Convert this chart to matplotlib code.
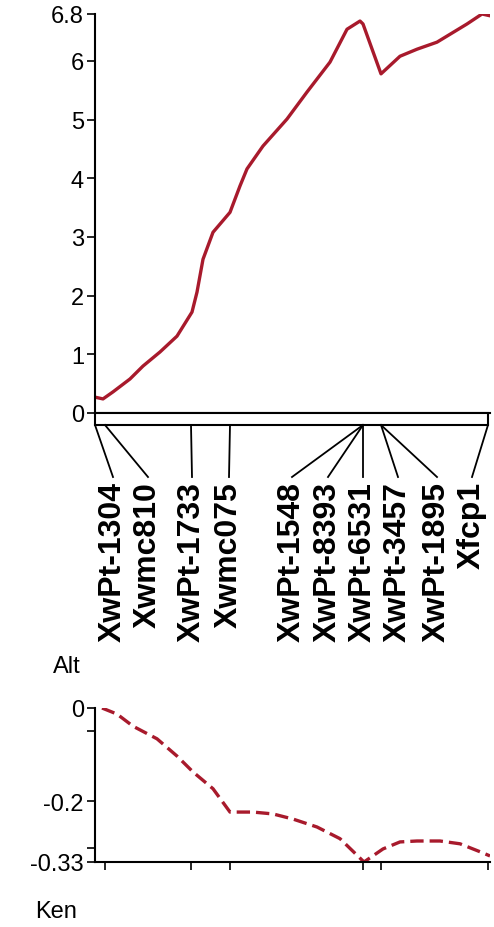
import matplotlib
matplotlib.use("Agg")
import matplotlib.pyplot as plt
import numpy as np

# marker map (cM)
markers = ["XwPt-1304", "Xwmc810", "XwPt-1733", "Xwmc075", "XwPt-1548",
           "XwPt-8393", "XwPt-6531", "XwPt-3457", "XwPt-1895", "Xfcp1"]
marker_pos = [0.0, 1.0, 9.6, 13.5, 26.8, 26.8, 26.8, 28.6, 28.6, 39.3]

# LOD profile
lod_x = [0.0, 0.8, 1.8, 3.5, 4.8, 6.5, 8.2, 9.7, 10.2, 10.8, 11.8, 13.5, 14.5,
         15.2, 16.8, 19.2, 21.2, 23.5, 25.2, 26.5, 26.8, 28.6, 30.5, 32.2,
         34.2, 37.2, 38.7, 39.5]
lod_y = [0.27, 0.24, 0.36, 0.58, 0.80, 1.04, 1.31, 1.72, 2.06, 2.62, 3.08, 3.42,
         3.87, 4.16, 4.55, 5.01, 5.47, 5.98, 6.54, 6.68, 6.63, 5.78, 6.08, 6.20,
         6.32, 6.63, 6.80, 6.77]

# additive effect
add_x = [0.7, 2.2, 3.8, 6.2, 8.2, 9.8, 11.8, 13.5, 15.8, 17.8, 19.8, 22.2, 24.5,
         26.9, 28.8, 30.5, 32.2, 34.5, 36.5, 38.5, 39.5]
add_y = [0.0, -0.013, -0.039, -0.066, -0.103, -0.137, -0.173, -0.223, -0.223,
         -0.227, -0.238, -0.255, -0.28, -0.33, -0.302, -0.287, -0.285, -0.285,
         -0.291, -0.308, -0.317]

lod_ticks = [0, 1, 2, 3, 4, 5, 6, 6.8]
lod_ticklabels = ["0", "1", "2", "3", "4", "5", "6", "6.8"]
add_ticks = [0, -0.2, -0.33]
add_ticklabels = ["0", "-0.2", "-0.33"]

# layout: where the rotated names sit along the map (cM)
label_x = [1.8, 5.3, 9.7, 13.4, 19.7, 23.3, 26.8, 30.3, 34.2, 37.7]

W, H = 494, 928
RED = "#a81a2c"
plt.rcParams['font.family'] = ['Liberation Sans', 'DejaVu Sans']

fig = plt.figure(figsize=(W / 100, H / 100), dpi=100)


def rect(x0, y0, x1, y1):
    # pixel box (top-left origin) -> figure fraction
    return [x0 / W, 1 - y1 / H, (x1 - x0) / W, (y1 - y0) / H]


xmax = 39.5

# top panel: LOD
ax1 = fig.add_axes(rect(95, 15, 490, 414))
ax1.plot(lod_x, lod_y, color=RED, lw=2.4)
ax1.set_xlim(0, xmax)
ax1.set_ylim(0, 6.8)
ax1.set_yticks(lod_ticks)
ax1.set_yticklabels(lod_ticklabels)
ax1.set_xticks([])
ax1.spines["top"].set_visible(False)
ax1.spines["right"].set_visible(False)
ax1.tick_params(axis="y", length=6, width=1.2, labelsize=17, pad=2)
for s in ax1.spines.values():
    s.set_linewidth(1.5)

# marker map bar with labels
axm = fig.add_axes(rect(95, 414, 490, 650))
axm.set_xlim(0, xmax)
axm.set_ylim(236, 0)
axm.axis("off")
axm.add_patch(plt.Rectangle((0, 0), max(marker_pos), 12, facecolor="white",
                            edgecolor="black", lw=1.5, clip_on=False))
for name, p, lx in zip(markers, marker_pos, label_x):
    axm.plot([p, lx], [12, 64], color="black", lw=1.3, clip_on=False)
    axm.text(lx, 68, name, rotation=90, ha="center", va="top",
             fontsize=23, fontweight="bold")

# bottom panel: additive effect
ax2 = fig.add_axes(rect(95, 709, 490, 863))
ax2.plot(add_x, add_y, color=RED, lw=2.4, linestyle=(0, (4, 1.8)))
ax2.set_xlim(0, xmax)
ax2.set_ylim(-0.33, 0)
ax2.set_yticks(add_ticks)
ax2.set_yticklabels(add_ticklabels)
ax2.set_yticks([-0.05, -0.3], minor=True)
ax2.set_xticks(sorted(set(p for p in marker_pos if p > 0)))
ax2.set_xticklabels([])
ax2.spines["top"].set_visible(False)
ax2.spines["right"].set_visible(False)
ax2.tick_params(axis="y", which="both", length=6, width=1.2, labelsize=17, pad=2)
ax2.tick_params(axis="x", length=6, width=1.2)
for s in ax2.spines.values():
    s.set_linewidth(1.5)

fig.text(67 / W, 1 - 667 / H, "Alt", ha="center", va="center", fontsize=17)
fig.text(56 / W, 1 - 912 / H, "Ken", ha="center", va="center", fontsize=17)

fig.savefig("out.png", dpi=100)
